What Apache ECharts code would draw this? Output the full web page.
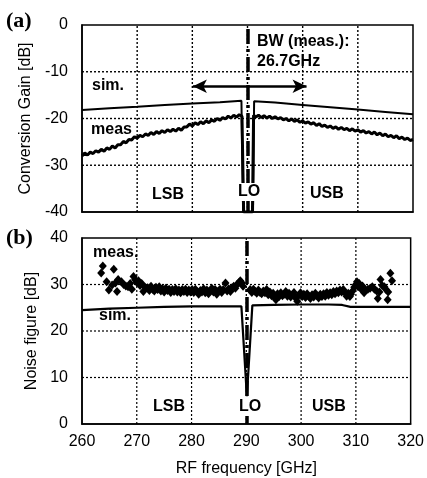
<!DOCTYPE html>
<html><head><meta charset="utf-8">
<script src="https://cdn.jsdelivr.net/npm/echarts@6/dist/echarts.min.js"></script>
<style>html,body{margin:0;padding:0;background:#fff}#c{width:427px;height:478px}</style>
</head><body><div id="c"></div>
<script>
// ---- data ----
const freqMin = 260, freqMax = 320, freqStep = 10;
const freqGrid = [270, 280, 290, 300, 310];
const gainTicks = [-40, -30, -20, -10, 0];
const gainGrid = [-30, -20, -10];
const nfTicks = [0, 10, 20, 30, 40];
const nfGrid = [10, 20, 30];
const loFreq = 290;
const bwArrow = [[280.1, -13.1], [300.7, -13.1]];

const gainSim = [[260,-18.2],[265,-17.8],[270,-17.5],[275,-17.1],[280,-16.8],[285,-16.5],[288.9,-16.2],[289.2,-40],[291.0,-40],[291.2,-16.3],[295,-16.6],[300,-17.1],[305,-17.6],[310,-18.1],[315,-18.6],[320,-19.1]];

const gainMeas = [[260,-28.0],[260.5,-27.4],[261,-27.8],[261.5,-27.2],[262,-27.5],[262.5,-26.9],[263,-27.2],[263.5,-26.6],[264,-27.0],[264.5,-26.3],[265,-26.6],[265.5,-25.9],[266,-26.3],[266.5,-25.6],[267,-25.6],[267.5,-24.9],[268,-25.2],[268.5,-24.5],[269,-24.6],[269.5,-23.9],[270,-24.2],[270.5,-23.6],[271,-23.9],[271.5,-23.3],[272,-23.6],[272.5,-23.0],[273,-23.4],[273.5,-22.8],[274,-23.2],[274.5,-22.6],[275,-23.0],[275.5,-22.4],[276,-22.8],[276.5,-22.3],[277,-22.7],[277.5,-22.1],[278,-22.5],[278.5,-21.8],[279,-21.8],[279.5,-21.2],[280,-21.6],[280.5,-20.9],[281,-21.3],[281.5,-20.7],[282,-21.1],[282.5,-20.5],[283,-20.9],[283.5,-20.3],[284,-20.6],[284.5,-20.0],[285,-20.4],[285.5,-19.8],[286,-20.1],[286.5,-19.5],[287,-19.9],[287.5,-19.3],[288,-19.7],[288.5,-19.2],[289,-19.5],[289.3,-40],[290.9,-40],[291.1,-19.3],[291.5,-19.7],[292,-19.3],[292.5,-19.8],[293,-19.4],[293.5,-19.9],[294,-19.5],[294.5,-20.0],[295,-19.6],[295.5,-20.1],[296,-19.8],[296.5,-20.3],[297,-20.0],[297.5,-20.5],[298,-20.1],[298.5,-20.6],[299,-20.3],[299.5,-20.8],[300,-20.5],[300.5,-21.0],[301,-20.7],[301.5,-21.2],[302,-20.9],[302.5,-21.5],[303,-21.1],[303.5,-21.7],[304,-21.4],[304.5,-21.9],[305,-21.6],[305.5,-22.1],[306,-21.8],[306.5,-22.3],[307,-21.9],[307.5,-22.4],[308,-22.1],[308.5,-22.6],[309,-22.2],[309.5,-22.7],[310,-22.4],[310.5,-22.9],[311,-22.6],[311.5,-23.1],[312,-22.8],[312.5,-23.3],[313,-22.9],[313.5,-23.5],[314,-23.1],[314.5,-23.7],[315,-23.3],[315.5,-23.9],[316,-23.6],[316.5,-24.1],[317,-23.7],[317.5,-24.3],[318,-24.0],[318.5,-24.5],[319,-24.2],[319.5,-24.7],[320,-24.5]];

const nfSim = [[260,24.5],[265,24.8],[270,25.0],[275,25.2],[280,25.3],[285,25.3],[289.1,25.3],[290.1,6.0],[291.1,25.5],[295,25.6],[300,25.7],[305,25.7],[307.5,25.6],[309,25.2],[315,25.2],[320,25.2]];

const nfMeas = [[263.5,32.5],[263.8,34.0],[265.8,33.3],[264.5,30.6],[264.9,28.8],[265.5,29.9],[266.1,30.3],[266.4,28.5],[266.6,31.1],[267.2,30.6],[267.6,30.0],[268.0,29.7],[268.4,29.5],[268.8,30.2],[269.1,29.0],[269.4,31.7],[269.7,31.0],[270.0,30.5],[270.3,30.8],[270.6,29.8],[270.9,30.2],[271.2,28.5],[271.5,29.4],
[272.0,29.3],[272.3,28.7],[272.6,29.6],[272.9,29.0],[273.2,28.6],[273.5,29.4],[273.8,28.9],[274.1,29.5],[274.4,28.6],[274.7,29.1],[275.0,28.4],[275.3,29.2],[275.6,28.7],[275.9,29.0],[276.2,28.3],[276.5,28.9],[276.8,28.5],[277.1,29.1],[277.4,28.4],[277.7,28.8],[278.0,28.2],[278.3,28.9],[278.6,28.5],[278.9,29.0],[279.2,28.3],[279.5,28.8],[279.8,28.4],
[280.1,28.9],[280.4,28.3],[280.7,29.0],[281.0,28.5],[281.3,27.9],[281.6,28.7],[281.9,28.4],[282.2,29.1],[282.5,28.2],[282.8,28.8],[283.1,28.0],[283.4,28.6],[283.7,29.2],[284.0,28.4],[284.3,28.9],[284.6,27.9],[284.9,28.6],[285.2,29.0],[285.5,28.3],[285.8,28.9],[286.2,30.3],[286.5,28.6],[286.8,29.1],[287.1,28.5],[287.4,29.3],[287.7,29.6],[288.0,29.2],[288.3,30.0],[288.6,30.4],[288.9,30.8],[289.2,30.3],[289.4,29.6],
[290.7,28.9],[291.0,28.3],[291.3,29.0],[291.6,28.5],[291.9,28.1],[292.2,28.8],[292.5,28.3],[292.8,28.0],[293.1,28.6],[293.4,28.2],[293.7,28.9],[294.0,27.8],[294.3,28.4],[294.6,27.6],[294.9,28.1],[295.2,27.2],[295.4,26.7],[295.7,28.0],[296.0,27.4],[296.3,28.2],[296.6,27.6],[296.9,27.9],[297.2,28.5],[297.5,27.5],[297.8,28.1],[298.1,27.3],[298.4,27.8],[298.7,28.3],[299.0,27.1],[299.3,26.4],[299.6,27.7],[299.9,28.2],
[300.2,27.4],[300.5,27.9],[300.8,27.2],[301.1,28.0],[301.4,27.5],[301.7,27.0],[302.0,27.8],[302.3,27.3],[302.6,28.1],[302.9,27.6],[303.2,27.1],[303.5,27.9],[303.8,27.4],[304.1,28.0],[304.4,27.5],[304.7,28.3],[305.0,27.7],[305.3,28.2],[305.6,27.8],[305.9,28.5],[306.2,28.0],[306.5,28.6],[306.8,28.2],[307.1,28.8],[307.4,28.4],[307.7,28.9],[308.0,28.3],[308.3,27.5],[308.6,28.1],[308.9,27.4],[309.1,27.9],[309.4,28.6],[309.7,29.4],[310.0,30.0],[310.2,30.6],[310.4,29.5],[310.6,30.2],[310.9,29.1],[311.2,29.7],[311.5,28.2],[311.8,28.8],[312.2,29.0],[312.6,29.2],[313.0,29.5],[313.4,29.0],[313.8,28.6],[314.0,27.0],[314.3,28.4],[314.5,31.1],[314.8,29.8],[315.2,29.5],[315.5,28.9],[315.8,26.7],[315.9,28.4],[316.3,32.4],[316.6,30.8]];

const gainLabels = {sim:'sim.', meas:'meas', lsb:'LSB', lo:'LO', usb:'USB', bw1:'BW (meas.):', bw2:'26.7GHz', panel:'(a)'};
const nfLabels = {sim:'sim.', meas:'meas.', lsb:'LSB', lo:'LO', usb:'USB', panel:'(b)'};

// ---- chart ----
const chart = echarts.init(document.getElementById('c'), null, {renderer:'canvas'});
const FONT = 'Arial, "Liberation Sans", sans-serif';
function xAx(idx, showLabels){
  return {type:'value', gridIndex:idx, min:freqMin, max:freqMax, interval:freqStep,
    axisLine:{show:true, onZero:false, lineStyle:{color:'#000', width:1.5}},
    axisTick:{show:false},
    axisLabel:{show:showLabels, color:'#000', fontSize:16, fontFamily:FONT, margin:10},
    splitLine:{show:false},
    name: showLabels ? 'RF frequency [GHz]' : '', nameLocation:'middle', nameGap:37,
    nameTextStyle:{color:'#000', fontSize:16, fontFamily:FONT}};
}
function yAx(idx, ticks, name){
  return {type:'value', gridIndex:idx, min:ticks[0], max:ticks[ticks.length-1], interval:ticks[1]-ticks[0],
    axisLine:{show:true, onZero:false, lineStyle:{color:'#000', width:1.5}},
    axisTick:{show:false},
    axisLabel:{color:'#000', fontSize:16, fontFamily:FONT, margin:14},
    splitLine:{show:false},
    name:name, nameLocation:'middle', nameGap:36,
    nameTextStyle:{color:'#000', fontSize:16, fontFamily:FONT}};
}
// dotted grid lines: each one is a dotted line series through the axes' own scales
function gridSeries(idx, yTicks, yGrid, w){
  const out = [];
  const yLo = yTicks[0], yHi = yTicks[yTicks.length-1];
  freqGrid.forEach(f => out.push([[f, yLo], [f, yHi]]));
  yGrid.forEach(v => out.push([[freqMin, v], [freqMax, v]]));
  return out.map(pts => ({type:'line', xAxisIndex:idx, yAxisIndex:idx, data:pts, symbol:'none', showSymbol:false,
    silent:true, z:6, clip:false, lineStyle:{color:'#000', width:w, type:[2,2], opacity:1}}));
}
const loLine = {silent:true, symbol:['none','none'], label:{show:false}, animation:false,
  lineStyle:{color:'#000', width:3.5, type:[15,5,3,5]}, data:[{xAxis:loFreq}]};

function txt(x, y, t, opts){
  opts = opts || {};
  return {type:'text', x:x, y:y, z:100, silent:true,
    style:Object.assign({text:t, fill:'#000', font:(opts.font||('bold 16px '+FONT)),
      textAlign:opts.align||'left', align:opts.align||'left',
      textVerticalAlign:'middle', verticalAlign:'middle'}, opts.bg?{backgroundColor:'#fff', padding:[1,1]}:{})};
}

chart.setOption({
  animation:false,
  backgroundColor:'#fff',
  grid:[
    {left:82, top:25, width:331, height:187, show:true, borderColor:'#000', borderWidth:1.5},
    {left:82, top:238, width:331, height:186, show:true, borderColor:'#000', borderWidth:1.5}
  ],
  xAxis:[xAx(0,false), xAx(1,true)],
  yAxis:[yAx(0, gainTicks, 'Conversion Gain [dB]'), yAx(1, nfTicks, 'Noise figure [dB]')],
  series:[
    {type:'line', xAxisIndex:1, yAxisIndex:1, data:nfSim, showSymbol:false, symbol:'none', z:5,
     lineStyle:{color:'#000', width:2.2}, markLine:loLine},
    {type:'scatter', xAxisIndex:1, yAxisIndex:1, data:nfMeas, symbol:'diamond', symbolSize:[8,9], z:5,
     itemStyle:{color:'#000', opacity:1}},
    {type:'line', xAxisIndex:0, yAxisIndex:0, data:gainSim, showSymbol:false, symbol:'none', z:5,
     lineStyle:{color:'#000', width:2}, markLine:loLine},
    {type:'line', xAxisIndex:0, yAxisIndex:0, data:gainMeas, showSymbol:false, symbol:'none', z:5,
     lineStyle:{color:'#000', width:3},
     markLine:{silent:true, symbol:['arrow','arrow'], symbolSize:[10,14], label:{show:false},
       lineStyle:{color:'#000', width:2.5, type:'solid'},
       data:[[{coord:bwArrow[0]},{coord:bwArrow[1]}]]}}
  ].concat(gridSeries(1, nfTicks, nfGrid, 1.2), gridSeries(0, gainTicks, gainGrid, 1.4)),
  graphic:[
    txt(6, 21, gainLabels.panel, {font:'bold 22px "Liberation Serif", "Times New Roman", serif'}),
    txt(6, 238, nfLabels.panel, {font:'bold 22px "Liberation Serif", "Times New Roman", serif'}),
    txt(92, 86, gainLabels.sim),
    txt(91, 130, gainLabels.meas),
    txt(152, 195, gainLabels.lsb),
    txt(249, 192, gainLabels.lo, {align:'center', bg:true}),
    txt(310, 194, gainLabels.usb),
    txt(257, 42, gainLabels.bw1),
    txt(257, 62, gainLabels.bw2),
    txt(93, 253, nfLabels.meas),
    txt(99, 316, nfLabels.sim),
    txt(153, 407, nfLabels.lsb),
    txt(250, 407, nfLabels.lo, {align:'center', bg:true}),
    txt(312, 407, nfLabels.usb)
  ]
});
</script></body></html>
